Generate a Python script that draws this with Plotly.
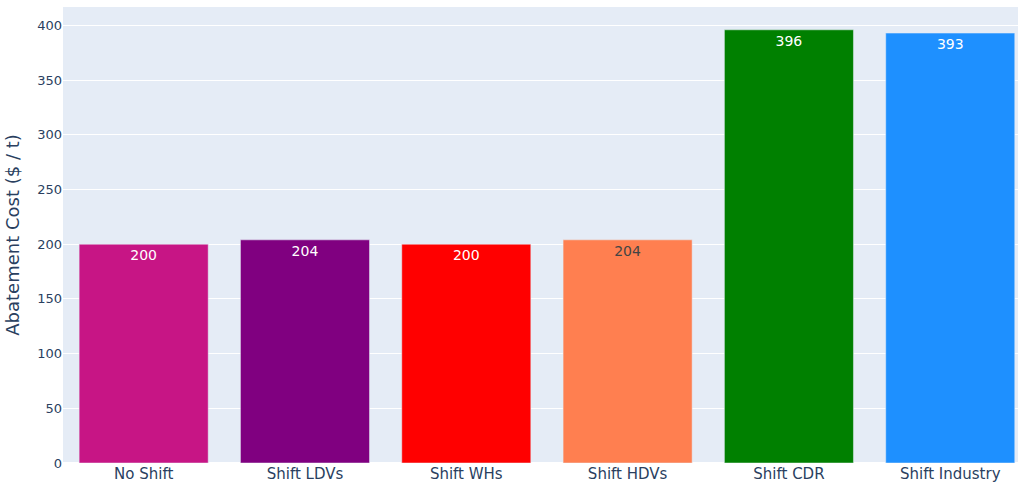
import plotly.graph_objects as go

scenarios = ["No Shift", "Shift LDVs", "Shift WHs", "Shift HDVs", "Shift CDR", "Shift Industry"]
abatement_cost = [200, 204, 200, 204, 396, 393]
bar_colors = ["mediumvioletred", "purple", "red", "coral", "green", "dodgerblue"]

fig = go.Figure(
    go.Bar(
        x=scenarios,
        y=abatement_cost,
        marker_color=bar_colors,
        text=[str(v) for v in abatement_cost],
        textposition="inside",
        insidetextanchor="end",
        textfont=dict(size=14),
    )
)

fig.update_layout(
    width=1018,
    height=485,
    margin=dict(l=63, r=0, t=7, b=22),
    showlegend=False,
    font=dict(family="Verdana, DejaVu Sans, sans-serif"),
    yaxis=dict(title=dict(text="Abatement Cost ($ / t)", font=dict(size=18), standoff=12), tickfont=dict(size=13)),
    xaxis=dict(tickfont=dict(size=15), range=[-0.5, 5.42]),
)

fig.write_html("out.html")
